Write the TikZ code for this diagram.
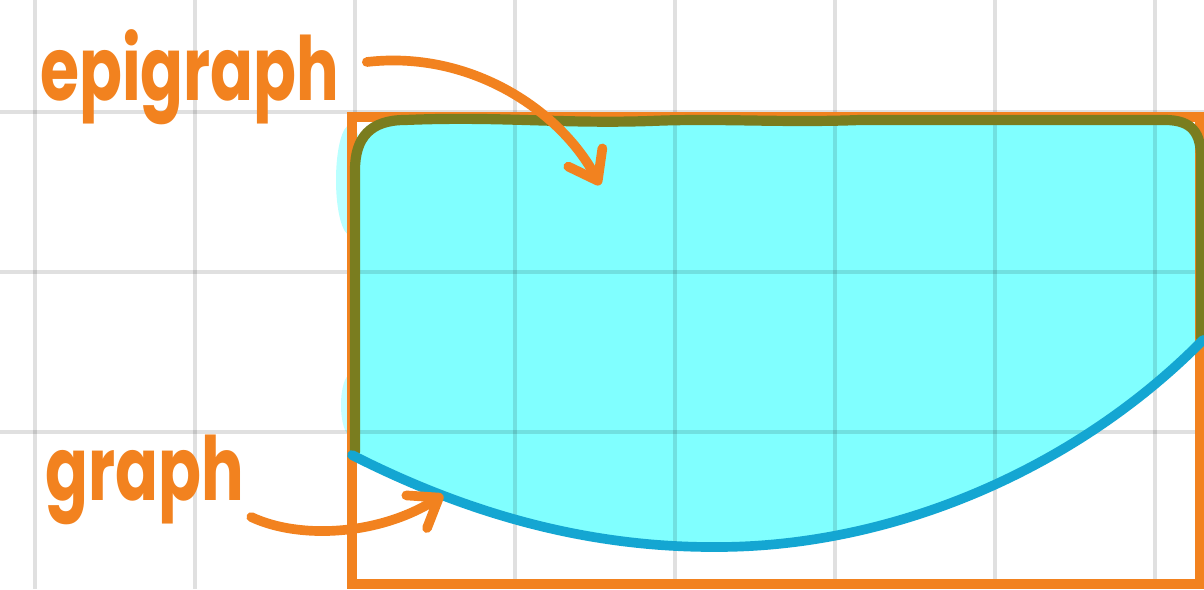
\documentclass[tikz,border=0pt]{standalone}
\usepackage{fontspec}
\setmainfont{Poppins}
\usetikzlibrary{arrows.meta}
\definecolor{hlorange}{HTML}{F2821F}
\definecolor{hlcyan}{HTML}{80FFFF}
\definecolor{hlolive}{HTML}{7A7D1F}
\definecolor{hlblue}{HTML}{14A6D2}
\tikzset{
  gridline/.style={black, opacity=0.12, line width=2.2pt},
  frame/.style={hlorange, line width=5.2pt, line join=miter},
  edge/.style={hlolive, line width=5.8pt, line cap=round, line join=round},
  graphcurve/.style={hlblue, line width=5.5pt, line cap=round},
  lbl/.style={text=hlorange, font=\fontsize{36}{36}\selectfont\bfseries, inner sep=0pt},
  pointer/.style={hlorange, line width=5.5pt, line cap=round,
    -{Straight Barb[length=15pt, width=22pt, round]}}
}
\begin{document}
\begin{tikzpicture}[x=0.02cm, y=-0.02cm]
\useasboundingbox (0,0) rectangle (1204,589);
\fill[white] (0,0) rectangle (1204,589);

% faint hand-drawn overspill of the fill
\fill[hlcyan, opacity=0.55] (350,180) ellipse [x radius=14, y radius=55];
\fill[hlcyan, opacity=0.45] (350,405) ellipse [x radius=9, y radius=30];

% epigraph region
\fill[hlcyan] (355,455) -- (355,170)
  .. controls (355,138) and (370,120) .. (405,120)
  .. controls (500,116) and (560,124) .. (650,121)
  .. controls (720,118) and (780,123) .. (860,120)
  -- (1165,120) .. controls (1192,120) and (1201,133) .. (1201,158)
  -- (1201,340)
  .. controls (1080,465) and (900,546) .. (720,547)
  .. controls (600,548) and (480,520) .. (355,455) -- cycle;

% grid
\foreach \gx in {35,195,355,515,675,835,995,1155}
  \draw[gridline] (\gx,0) -- (\gx,589);
\foreach \gy in {112,272,432}
  \draw[gridline] (0,\gy) -- (1204,\gy);

% orange frame
\draw[frame] (352,117) rectangle (1200,584);

% olive boundary of the epigraph
\draw[edge] (355,452) -- (355,170)
  .. controls (355,138) and (370,120) .. (405,120)
  .. controls (500,116) and (560,124) .. (650,121)
  .. controls (720,118) and (780,123) .. (860,120)
  -- (1165,120) .. controls (1192,120) and (1201,133) .. (1201,158)
  -- (1201,338);

% graph of the function
\draw[graphcurve] (352,455) .. controls (480,520) and (600,548) .. (720,547)
  .. controls (900,546) and (1080,465) .. (1203,340);

% labels
\node[lbl, anchor=base west] (epi) at (40,100) {\scalebox{1}[1.4]{epigraph}};
\node[lbl, anchor=base west] (gra) at (45,500) {\scalebox{1}[1.4]{graph}};

\coordinate (epitip) at (600,185);
\coordinate (gratip) at (443,495);

\draw[pointer] ([shift={(27,-38)}]epi.base east)
  .. controls (470,50) and (560,110) .. (epitip);
\draw[pointer] ([shift={(7,17)}]gra.base east)
  .. controls (300,540) and (380,535) .. (gratip);
\end{tikzpicture}
\end{document}
